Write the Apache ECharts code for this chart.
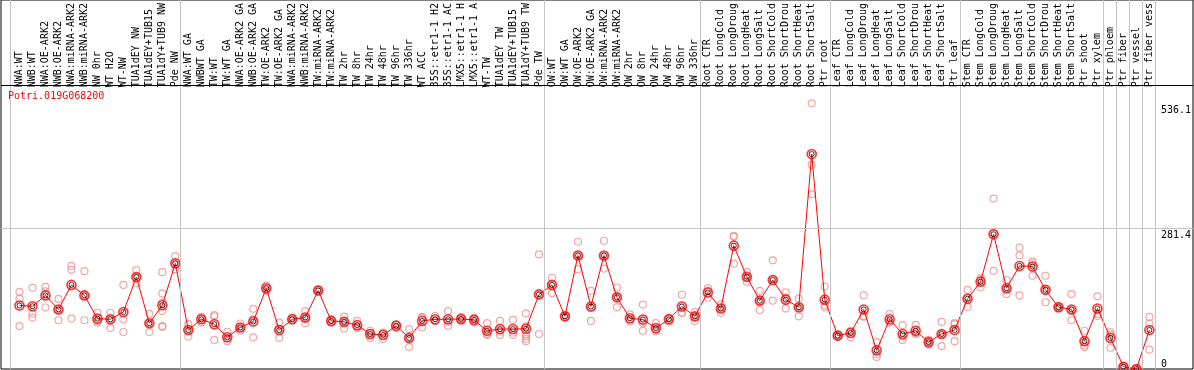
<!DOCTYPE html>
<html><head><meta charset="utf-8">
<script src="https://cdn.jsdelivr.net/npm/echarts@6/dist/echarts.min.js"></script>
<style>html,body{margin:0;padding:0;background:#fff}#c{width:1194px;height:370px}</style>
</head><body><div id="c"></div>
<script>
const geneId = 'Potri.019G068200';
const categories = ['NWA:WT','NWB:WT','NWA:OE-ARK2','NWB:OE-ARK2','NWA:miRNA-ARK2','NWB:miRNA-ARK2','NW 0hr','WT H2O','WT-NW','TUA1dEY NW','TUA1dEY+TUB15','TUA1dY+TUB9 NW','Pde NW',
'NWA:WT GA','NWBWT GA','TW:WT','TW:WT GA','NWA:OE-ARK2 GA','NWB:OE-ARK2 GA','TW:OE-ARK2','TW:OE-ARK2 GA','NWA:miRNA-ARK2','NWB:miRNA-ARK2','TW:miRNA-ARK2','TW:miRNA-ARK2','TW 2hr','TW 8hr','TW 24hr','TW 48hr','TW 96hr','TW 336hr','WT ACC','35S::etr1-1 H2','35S::etr1-1 AC','LMX5::etr1-1 H','LMX5::etr1-1 A','WT-TW','TUA1dEY TW','TUA1dEY+TUB15','TUA1dY+TUB9 TW','Pde TW',
'OW:WT','OW:WT GA','OW:OE-ARK2','OW:OE-ARK2 GA','OW:miRNA-ARK2','OW:miRNA-ARK2','OW 2hr','OW 8hr','OW 24hr','OW 48hr','OW 96hr','OW 336hr',
'Root CTR','Root LongCold','Root LongDroug','Root LongHeat','Root LongSalt','Root ShortCold','Root ShortDrou','Root ShortHeat','Root ShortSalt','Ptr root',
'Leaf CTR','Leaf LongCold','Leaf LongDroug','Leaf LongHeat','Leaf LongSalt','Leaf ShortCold','Leaf ShortDrou','Leaf ShortHeat','Leaf ShortSalt','Ptr leaf',
'Stem CTR','Stem LongCold','Stem LongDroug','Stem LongHeat','Stem LongSalt','Stem ShortCold','Stem ShortDrou','Stem ShortHeat','Stem ShortSalt','Ptr shoot',
'Ptr xylem','Ptr phloem','Ptr fiber','Ptr vessel','Ptr fiber vess'];
const means = [129.1,127.7,149.7,121.1,171,149.7,102.5,101.1,115.8,186.9,93.1,129.7,214.9,
79.2,101.1,91.1,64.5,84.5,96.5,164.3,79.2,101.1,104.5,159.7,97.8,95.8,89.2,71.2,69.2,87.8,63.2,97.8,101.1,101.1,101.8,99.8,77.8,81.2,81.2,81.8,151.7,
171,107.1,230.9,127.1,230.9,145.7,103.1,100.5,83.2,101.1,127.1,107.1,
155.7,123.1,250.8,187.6,139,181,141,125.7,437.1,141,
67.9,73.2,121.1,37.9,101.1,71.2,77.8,54.6,71.2,79.2,
143,177.6,274.1,164.3,209.6,208.2,161,125.7,121.1,56.6,
123.1,63.2,4.7,0,79.2];
const replicates = [
[157,143,87.2],[165,112.4,104.5],[167,157.7,125.1],[142.4,121.1,99.1],[209.6,201.6,102.5],[198.9,149.7,99.1],[114.4,97.8,94.5],[114.4,101.1,83.2],[171,100.5,75.2],[200.9,174.3,186],[112.4,93,75.2],[196.9,153.7,135,117.8,87.2,85.8],[229.5,213,202.9],
[91.1,79,65.9],[105.8,102,94.5],[109.8,107.1,59.2],[75.8,62,56.6],[92.5,84,77.8],[122.4,101,64.5],[169.6,164,159],[94.5,81,63.2],[104.5,99.1,100],[117.8,103,93.1],[159.7,157.7,162],[93.8,100.5,99],[106.4,98,82.5],[97.8,86,83.2],[77.8,73,63.2],[72.5,74,61.2],[91.1,89,83.2],[81.2,63,44.6],[105.8,104,84.5],[107.8,98,97.8],[117.8,96,87.8],[105.8,101.8,97.8],[104.5,101,94.5],[93.1,71,69.2],[97.8,76,69.2],[99.8,74,69.2],[113.1,86.5,71.2,66.5,61.2,56.6],[232.9,151,71.2],
[185.6,172,154.3],[107.1,105,109],[258.8,231,202.9],[159,125,97.8],[260.8,230,204.2],[165.7,146,125.7],[111.1,101,96.5],[131,93,77.8],[93.1,80,76.5],[104.5,102,96.5],[151,114,114.4],[115.8,107,97.8],
[164.3,159,144.4],[131,124,114.4],[270.8,268.8,214.2],[197.6,186,177.6],[159,139,119.8],[220.9,182,139],[155.7,145,123.1],[143,126,107.1],[540.2,415.1,355.3],[167.7,129.7,125.6],
[69.2,67.9,65.9],[77.8,76,64.5],[149.7,108,106.4],[54.6,29.9,24.6],[112.4,96,94.5],[89.2,66,59.2],[89.8,73,71.2],[59.2,55,49.9],[95.8,71,46.6],[93.1,91.1,56.6],
[161,145,125.7],[184.3,180,165.7],[346.6,276,199.6],[181,163,152.4],[246.8,230.9,149.7],[218.9,215,189.6],[189.6,160,135.7],[127.7,126,123.1],[152.4,120,99.1],[77.8,47.9,44.6],
[147.7,112,107.8],[74.5,70,43.2],[6,4.7,2],[1,0,0],[105.8,92.5,39.3]];
const groupEnds = [12,40,52,62,72,83,84,85,86,87];
const yTickValues = [0, 281.4, 536.1];
const refLineValue = 281.4;

// ---- layout / style ----
const H = 370, bandW = 13, plotL = 13, plotR = 37, plotTop = 85, plotBottom = 1;
const pxPerUnit = 140.5 / 281.4;
const yMaxData = (H - plotBottom - plotTop) / pxPerUnit;
const yMaxFrame = (H - plotBottom) / pxPerUnit;
const sepValue = (H - plotBottom - plotTop - 0.5) / pxPerUnit;
const frameXMin = -0.5 - (plotL - 1) / bandW;
const frameXMax = (categories.length - 0.5) + (plotR - 1) / bandW;
const lineOffset = 5 / bandW, leftLine = -9 / bandW;
const mono = 'DejaVu Sans Mono';
const grey = '#c4c4c4';

const repData = replicates.flatMap((r, i) => r.map(v => [i, v]));
const meanData = means.map((v, i) => [i, v]);

const chart = echarts.init(document.getElementById('c'), null, {renderer: 'canvas'});
chart.setOption({
  animation: false,
  title: {text: geneId, left: 8, top: 91, padding: 0,
    textStyle: {color: '#ff0000', fontSize: 10, fontFamily: mono, fontWeight: 'normal'}},
  grid: [
    {left: 1, right: 1, top: 0, bottom: plotBottom, show: true, borderColor: '#000', borderWidth: 1, backgroundColor: 'transparent'},
    {left: plotL, right: plotR, top: plotTop, bottom: plotBottom}
  ],
  xAxis: [
    {gridIndex: 0, type: 'value', min: frameXMin, max: frameXMax, show: false},
    {gridIndex: 1, type: 'category', data: categories, position: 'top', boundaryGap: true,
      axisLine: {show: false}, axisTick: {show: false}, splitLine: {show: false},
      axisLabel: {interval: 0, rotate: 90, margin: 2, fontFamily: mono, fontSize: 10, color: '#000'}}
  ],
  yAxis: [
    {gridIndex: 0, type: 'value', min: 0, max: yMaxFrame, show: false},
    {gridIndex: 1, type: 'value', min: 0, max: yMaxData, position: 'right',
      axisLine: {show: false}, axisTick: {show: false}, splitLine: {show: false},
      axisLabel: {customValues: yTickValues.filter(v => v > 0), verticalAlign: 'top', margin: 5,
        fontFamily: mono, fontSize: 10, color: '#000'}},
    {gridIndex: 1, type: 'value', min: 0, max: yMaxData, position: 'right',
      axisLine: {show: false}, axisTick: {show: false}, splitLine: {show: false},
      axisLabel: {customValues: yTickValues.filter(v => v === 0), verticalAlign: 'bottom', margin: 5,
        fontFamily: mono, fontSize: 10, color: '#000'}}
  ],
  series: [
    {type: 'line', xAxisIndex: 0, yAxisIndex: 0, data: [[0, 0]], showSymbol: false, lineStyle: {opacity: 0}, silent: true,
      markLine: {silent: true, symbol: 'none', label: {show: false}, animation: false,
        lineStyle: {color: grey, width: 1, type: 'solid'},
        data: [{xAxis: leftLine}]
          .concat(groupEnds.map(i => ({xAxis: i + lineOffset})))
          .concat([{yAxis: refLineValue}, {yAxis: sepValue, lineStyle: {color: '#000', width: 1, type: 'solid'}}])}},
    {type: 'scatter', xAxisIndex: 1, yAxisIndex: 1, data: repData, symbol: 'circle', symbolSize: 7, z: 2,
      itemStyle: {color: 'rgba(0,0,0,0)', borderColor: '#ee9090', borderWidth: 1.2}},
    {type: 'line', xAxisIndex: 1, yAxisIndex: 1, data: meanData, showSymbol: false, z: 3,
      lineStyle: {color: '#ff0000', width: 1}},
    {type: 'scatter', xAxisIndex: 1, yAxisIndex: 1, data: meanData, symbol: 'circle', symbolSize: 9, z: 4,
      itemStyle: {color: 'rgba(0,0,0,0)', borderColor: '#ff0000', borderWidth: 1.6}},
    {type: 'scatter', xAxisIndex: 1, yAxisIndex: 1, data: meanData, symbol: 'circle', symbolSize: 5, z: 5,
      itemStyle: {color: 'rgba(0,0,0,0)', borderColor: '#000', borderWidth: 1}}
  ]
});
</script></body></html>
